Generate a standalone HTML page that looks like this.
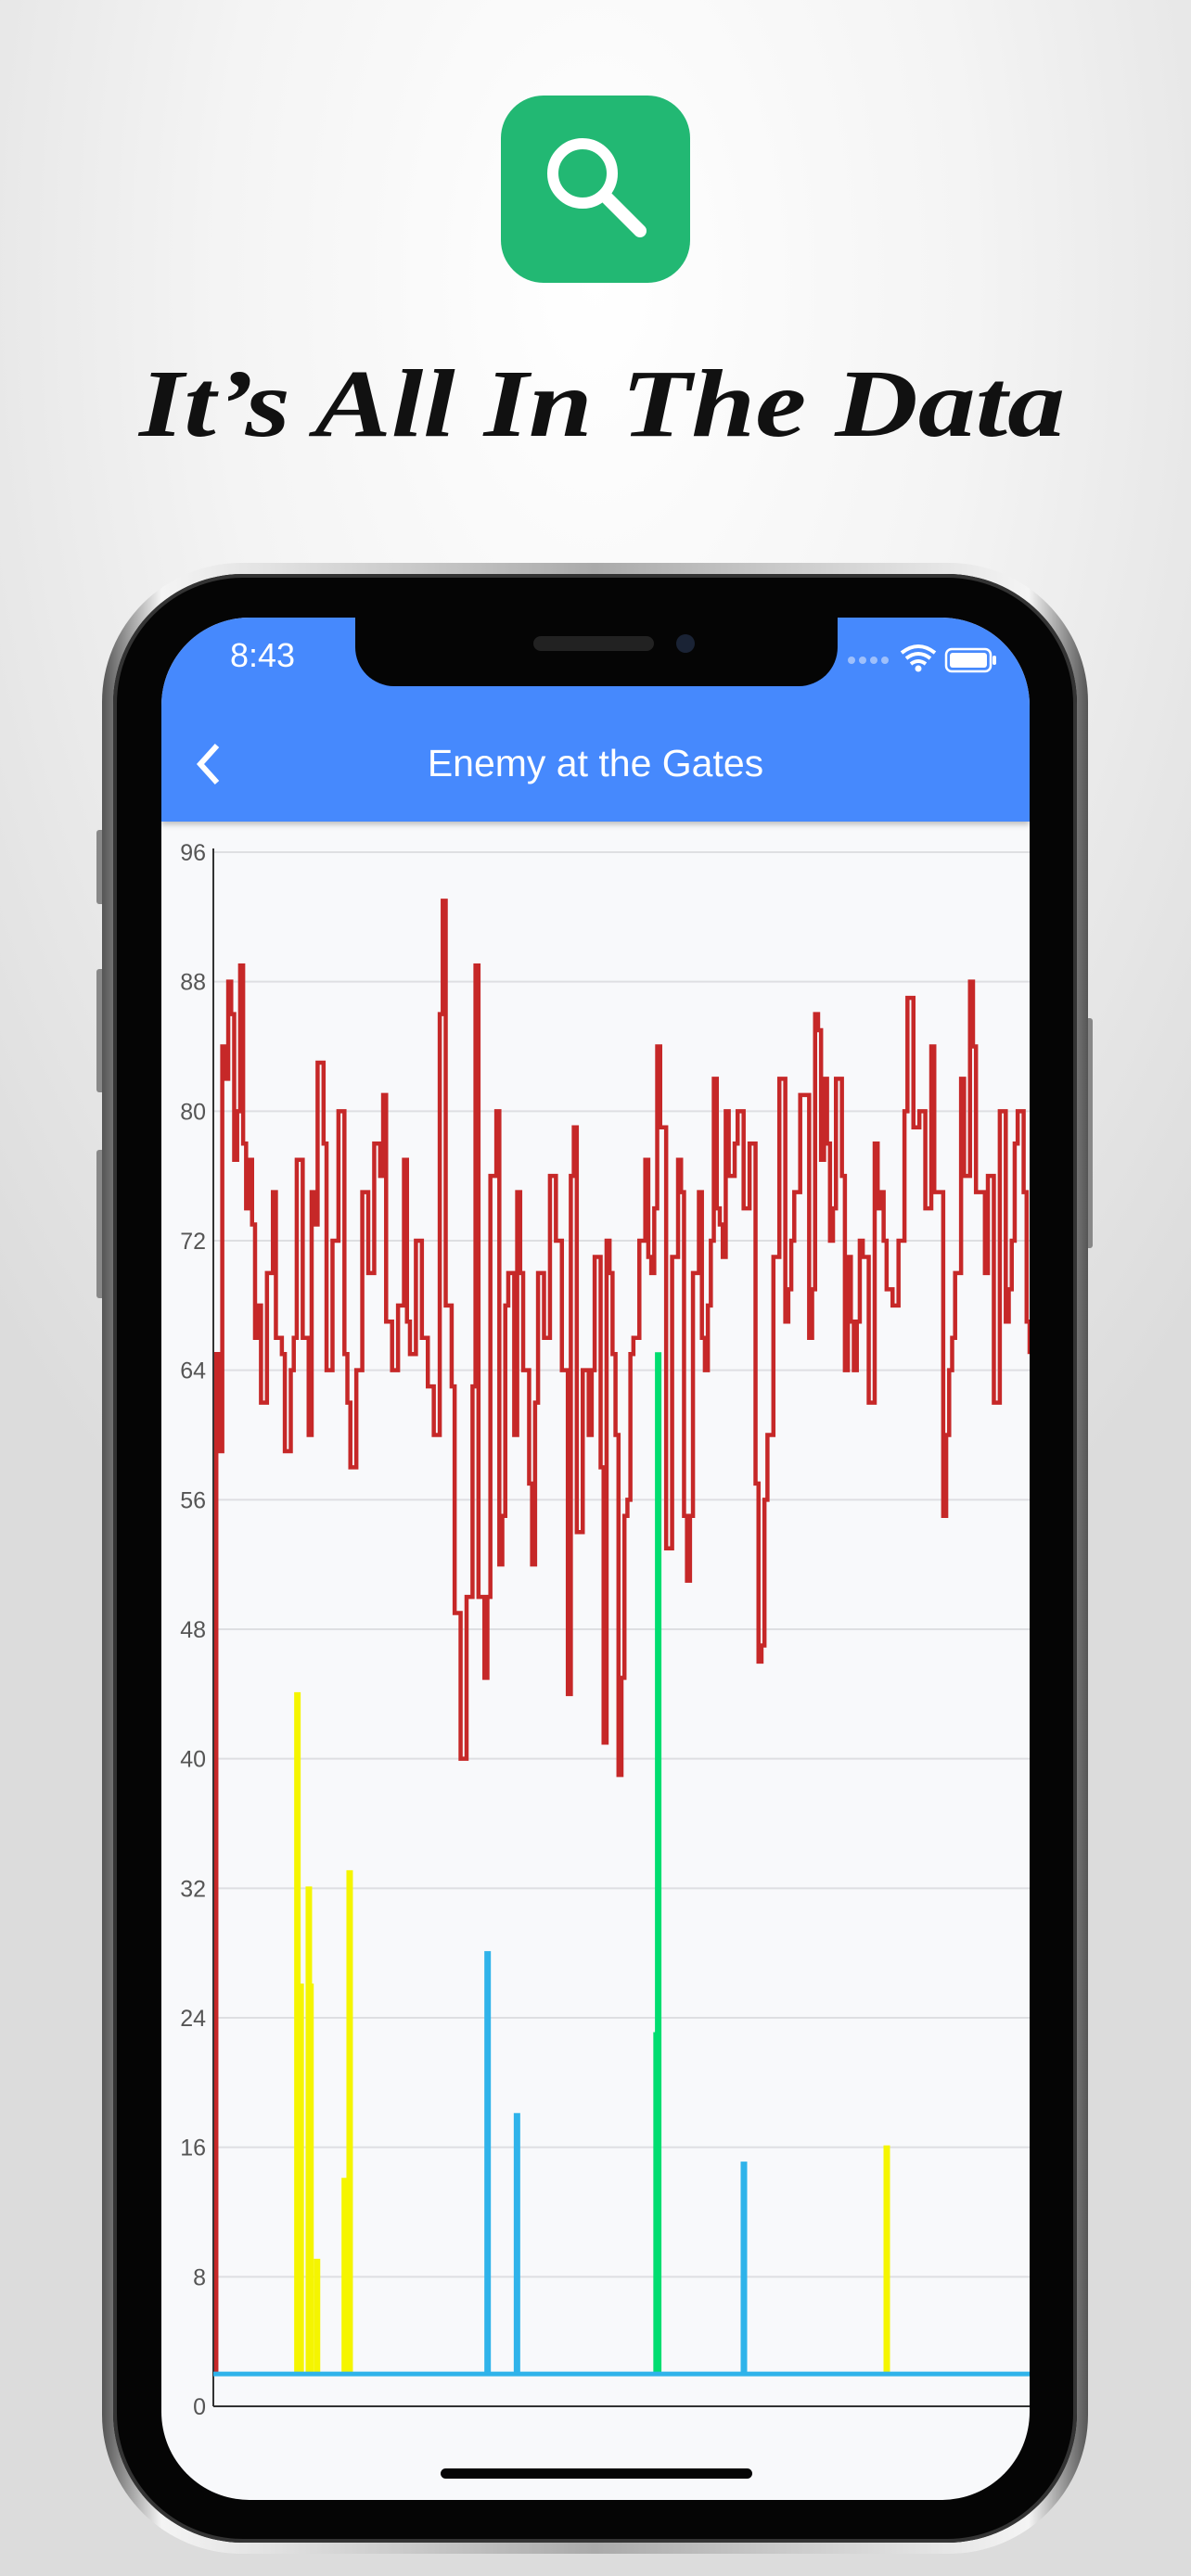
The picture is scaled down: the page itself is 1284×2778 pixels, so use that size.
<!DOCTYPE html>
<html><head><meta charset="utf-8">
<style>
html,body{margin:0;padding:0}
body{width:1284px;height:2778px;position:relative;overflow:hidden;
background:radial-gradient(ellipse 900px 1600px at 642px 300px,#ffffff 0%,#f4f4f4 45%,#dcdcdc 100%);
font-family:"Liberation Sans",sans-serif}
.abs{position:absolute}
</style></head><body>
<div class="abs" style="left:540px;top:103px;width:204px;height:202px;border-radius:46px;background:#22b873">
<svg width="204" height="202" viewBox="0 0 204 202"><circle cx="88" cy="84" r="32" fill="none" stroke="#fff" stroke-width="12"/><line x1="112" y1="108" x2="150" y2="146" stroke="#fff" stroke-width="14" stroke-linecap="round"/></svg>
</div>
<svg class="abs" style="left:0;top:370px" width="1284" height="150">
<text x="150" y="100" textLength="998" lengthAdjust="spacingAndGlyphs" font-family="Liberation Serif,serif" font-style="italic" font-weight="bold" font-size="104" fill="#111">It’s All In The Data</text>
</svg>

<div class="abs" style="left:104px;top:895px;width:10px;height:80px;background:#888;border-radius:3px"></div>
<div class="abs" style="left:104px;top:1045px;width:10px;height:133px;background:#888;border-radius:3px"></div>
<div class="abs" style="left:104px;top:1240px;width:10px;height:160px;background:#888;border-radius:3px"></div>
<div class="abs" style="left:1168px;top:1098px;width:10px;height:248px;background:#888;border-radius:3px"></div>
<div class="abs" style="left:110px;top:607px;width:1063px;height:2147px;border-radius:150px;background:linear-gradient(90deg,#555,#f4f4f4 6%,#aaa 50%,#f4f4f4 94%,#555)"></div>
<div class="abs" style="left:122px;top:619px;width:1039px;height:2123px;border-radius:140px;background:#050505;box-shadow:inset 0 0 0 4px #333"></div>
<div class="abs" style="left:174px;top:666px;width:936px;height:2030px;border-radius:95px;overflow:hidden;background:#f8f9fb">
  <div class="abs" style="left:0;top:0;width:936px;height:220px;background:#4689fd;box-shadow:0 3px 6px rgba(0,0,0,.25)"></div>
  <div class="abs" style="left:74px;top:20px;color:#fff;font-size:36px">8:43</div>
  <svg class="abs" style="left:736px;top:26px" width="180" height="40">
    <g fill="#9fc0fb"><circle cx="8" cy="20" r="4"/><circle cx="20" cy="20" r="4"/><circle cx="32" cy="20" r="4"/><circle cx="44" cy="20" r="4"/></g>
    <path d="M62 12 Q80 -2 98 12 M67 18 Q80 8 93 18 M72 24 Q80 18 88 24" stroke="#fff" stroke-width="4" fill="none"/><circle cx="80" cy="29" r="3.5" fill="#fff"/>
    <rect x="110" y="8" width="48" height="24" rx="6" fill="none" stroke="#fff" stroke-width="2.5"/><rect x="114" y="12" width="40" height="16" rx="3" fill="#fff"/><rect x="160" y="15" width="4" height="10" rx="2" fill="#fff"/>
  </svg>
  <div class="abs" style="left:209px;top:0;width:520px;height:74px;background:#050505;border-radius:0 0 42px 42px">
    <div class="abs" style="left:192px;top:20px;width:130px;height:16px;border-radius:8px;background:#222"></div>
    <div class="abs" style="left:346px;top:18px;width:20px;height:20px;border-radius:10px;background:#1a2335"></div>
  </div>
  <svg class="abs" style="left:30px;top:130px" width="40" height="60"><path d="M30 8 L12 28 L30 48" stroke="#fff" stroke-width="6" fill="none"/></svg>
  <div class="abs" style="left:0;width:936px;top:134px;text-align:center;color:#fff;font-size:41px">Enemy at the Gates</div>
  <svg class="abs" id="chart" style="left:0;top:0" width="936" height="2030"></svg>
  <div class="abs" style="left:301px;top:1996px;width:336px;height:11px;border-radius:6px;background:#050505"></div>
</div>
<script>
const yTicks=[0,8,16,24,32,40,48,56,64,72,80,88,96];
const redValues=[2,65,59,84,82,88,86,77,80,89,78,74,77,73,66,68,62,62,70,70,75,66,66,65,59,59,64,66,77,77,66,66,60,75,73,83,83,78,64,64,72,72,80,80,65,62,58,58,64,64,75,75,70,70,78,78,76,81,67,67,64,64,68,68,77,67,65,65,72,72,66,66,63,63,60,60,86,93,68,68,63,49,49,40,40,50,50,63,89,50,50,45,50,76,76,80,52,55,68,70,70,60,75,70,64,64,57,52,62,70,70,66,66,76,76,72,72,64,64,44,76,79,54,54,64,64,60,64,71,71,58,41,72,70,65,
60,39,45,55,56,65,66,66,72,72,77,71,70,74,84,79,79,53,53,71,71,77,75,55,51,55,70,70,75,66,64,68,72,82,74,73,71,80,76,76,78,80,80,74,74,78,78,57,46,47,56,60,60,71,71,82,82,67,69,72,75,75,81,81,81,66,69,86,85,77,82,78,72,74,82,82,76,64,71,67,64,67,72,71,71,62,62,78,74,75,72,69,69,68,68,72,72,80,87,87,79,79,80,80,74,74,84,75,75,75,55,60,64,66,70,70,82,76,76,88,84,75,75,75,70,76,76,62,62,80,80,67,69,72,78,80,80,75,67,65];
const baseValue=2;
const yellowPos=[10.3,10.7,11.7,11.9,12.7,16.1,16.7,82.5];
const yellowVals=[44,26,32,26,9,14,33,16];
const bluePos=[33.6,37.2,65];
const blueVals=[28,18,15];
const greenPos=[54.3,54.5];
const greenVals=[23,65];

const X0=56,X1=936,Y0=1929,Y1=253;
const sx=p=>X0+(X1-X0)*p/100;
const sy=v=>Y0-(Y0-Y1)*v/96;
const svg=document.getElementById('chart');
const NS='http://www.w3.org/2000/svg';
function mk(tag,attrs){const e=document.createElementNS(NS,tag);for(const k in attrs)e.setAttribute(k,attrs[k]);svg.appendChild(e);return e;}
yTicks.forEach(t=>{
  const g=mk('line',{x1:X0,x2:X1,y1:sy(t),y2:sy(t),stroke:'#dedfe2','stroke-width':2});
  
  
  const l=mk('text',{x:X0-8,y:sy(t)+9,'text-anchor':'end','font-size':25,fill:'#555','font-family':'Liberation Sans,sans-serif'});
  l.textContent=t;
  
  
});
const ax=mk('line',{x1:X0,x2:X0,y1:Y1-4,y2:Y0,stroke:'#333','stroke-width':2});


const bx=mk('line',{x1:X0,x2:X1,y1:Y0,y2:Y0,stroke:'#333','stroke-width':2});


let d='';const n=redValues.length;
redValues.forEach((v,i)=>{const x=sx(i*100/(n-1));const y=sy(v);
  if(i===0)d='M'+x+' '+y;else d+=' H'+x+' V'+y;});
const red=mk('path',{d:d,stroke:'#c62828','stroke-width':4.5,fill:'none','stroke-linejoin':'miter'});


function spikes(pos,vals,color,name){
  pos.forEach((p,i)=>{const x=sx(p);
    const s=mk('path',{d:'M'+(x-1.5)+' '+sy(baseValue)+' V'+sy(vals[i])+' H'+(x+1.5)+' V'+sy(baseValue),stroke:color,'stroke-width':4,fill:color});
    
    
  });
}
spikes(yellowPos,yellowVals,'#f5f500','yellow');
spikes(greenPos,greenVals,'#00dd70','green');
spikes(bluePos,blueVals,'#2fb3ea','blue');
const base=mk('line',{x1:X0,x2:X1,y1:sy(baseValue),y2:sy(baseValue),stroke:'#2fb3ea','stroke-width':5});


</script>
</body></html>
